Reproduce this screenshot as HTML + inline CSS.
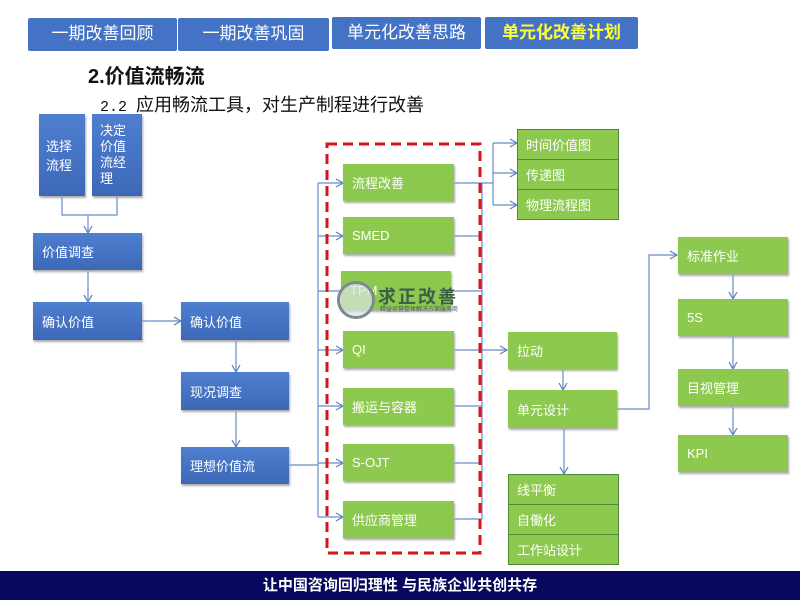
<!DOCTYPE html>
<html><head><meta charset="utf-8"><style>
body{margin:0;width:800px;height:600px;position:relative;background:#fff;overflow:hidden;font-family:"Liberation Sans","Noto Sans CJK SC",sans-serif}
.a{position:absolute;box-sizing:border-box}
.tab{background:#4472c4;color:#fff;font-size:17px;text-align:center;line-height:32px;border-radius:2px}
.b{background:linear-gradient(#4f7fd0,#3d68b8);color:#fff;font-size:13px;padding-left:9px;display:flex;align-items:center;box-shadow:1px 2px 2px #aaa}
.g{background:#8dc94e;color:#fff;font-size:13px;padding-left:9px;display:flex;align-items:center;box-shadow:1px 2px 2px #aaa}
.t{background:#8dc94e;border:1px solid #4e8a35;color:#fff;font-size:13px;padding-left:8px;display:flex;align-items:center}
</style></head><body>
<div class="a tab" style="left:28px;top:18px;width:149px;height:33px">一期改善回顾</div>
<div class="a tab" style="left:178px;top:18px;width:151px;height:33px">一期改善巩固</div>
<div class="a tab" style="left:332px;top:17px;width:149px;height:32px">单元化改善思路</div>
<div class="a tab" style="left:485px;top:17px;width:153px;height:32px;color:#ffff33;font-weight:bold">单元化改善计划</div>
<div class="a" style="left:88px;top:60px;font-size:20px;font-weight:bold;color:#111">2.价值流畅流</div>
<div class="a" style="left:100px;top:91px;font-size:18px;color:#111"><span style="font-family:'Liberation Mono',monospace;font-size:15px">2.2 </span>应用畅流工具，对生产制程进行改善</div>

<svg class="a" style="left:0;top:0" width="800" height="600">
<defs><marker id="m" markerWidth="10" markerHeight="10" refX="8" refY="5" orient="auto" markerUnits="userSpaceOnUse"><path d="M1,1 L8,5 L1,9" fill="none" stroke="#5b7fbf" stroke-width="1.2"/></marker></defs>
<g stroke="#6a8cc8" stroke-width="1.2" fill="none">
<path d="M62,196 V215 H117 V196"/><path d="M88,215 V233" marker-end="url(#m)"/>
<path d="M88,270 V302" marker-end="url(#m)"/>
<path d="M142,321 H181" marker-end="url(#m)"/>
<path d="M236,340 V372" marker-end="url(#m)"/>
<path d="M236,410 V447" marker-end="url(#m)"/>
<path d="M289,465 H318"/><path d="M318,183 V517"/>
<path d="M318,183 H343" marker-end="url(#m)"/><path d="M318,236 H343" marker-end="url(#m)"/>
<path d="M318,291 H341"/><path d="M318,350 H343" marker-end="url(#m)"/>
<path d="M318,406 H343" marker-end="url(#m)"/><path d="M318,463 H343" marker-end="url(#m)"/>
<path d="M318,517 H343" marker-end="url(#m)"/>
<path d="M482,183 V519"/>
<path d="M454,183 H482"/><path d="M454,236 H482"/><path d="M451,291 H482"/><path d="M454,406 H482"/><path d="M454,463 H482"/><path d="M454,519 H482"/>
<path d="M482,183 H493 M493,143 V205"/>
<path d="M493,143 H517" marker-end="url(#m)"/><path d="M493,173 H517" marker-end="url(#m)"/><path d="M493,205 H517" marker-end="url(#m)"/>
<path d="M454,350 H507" marker-end="url(#m)"/>
<path d="M563,369 V390" marker-end="url(#m)"/>
<path d="M617,409 H649 V255 H677" marker-end="url(#m)"/>
<path d="M564,428 V474" marker-end="url(#m)"/>
<path d="M733,274 V299" marker-end="url(#m)"/><path d="M733,336 V369" marker-end="url(#m)"/><path d="M733,406 V435" marker-end="url(#m)"/>
</g>
<rect x="327" y="144" width="153" height="409" fill="none" stroke="#d9141a" stroke-width="3" stroke-dasharray="10,6"/>
</svg>

<div class="a b" style="left:39px;top:114px;width:46px;height:82px;padding-left:7px">选择<br>流程</div>
<div class="a b" style="left:92px;top:114px;width:50px;height:82px;padding-left:8px;line-height:16px">决定<br>价值<br>流经<br>理</div>
<div class="a b" style="left:33px;top:233px;width:109px;height:37px">价值调查</div>
<div class="a b" style="left:33px;top:302px;width:109px;height:38px">确认价值</div>
<div class="a b" style="left:181px;top:302px;width:108px;height:38px">确认价值</div>
<div class="a b" style="left:181px;top:372px;width:108px;height:38px">现况调查</div>
<div class="a b" style="left:181px;top:447px;width:108px;height:37px">理想价值流</div>

<div class="a g" style="left:343px;top:164px;width:111px;height:37px">流程改善</div>
<div class="a g" style="left:343px;top:217px;width:111px;height:37px">SMED</div>
<div class="a g" style="left:341px;top:271px;width:110px;height:39px">TPM</div>
<div class="a g" style="left:343px;top:331px;width:111px;height:37px">QI</div>
<div class="a g" style="left:343px;top:388px;width:111px;height:37px">搬运与容器</div>
<div class="a g" style="left:343px;top:444px;width:111px;height:37px">S-OJT</div>
<div class="a g" style="left:343px;top:501px;width:111px;height:37px">供应商管理</div>
<div class="a" style="left:337px;top:281px;width:38px;height:38px;border-radius:50%;border:3px solid #7a8a90;background:rgba(220,230,225,.7)"></div>
<div class="a" style="left:378px;top:283px;font-size:18px;font-weight:bold;color:#3d5f4a;letter-spacing:2px">求正改善</div>
<div class="a" style="left:380px;top:304px;font-size:6px;color:#556">精益运营整体解决方案服务商</div>

<div class="a t" style="left:517px;top:129px;width:102px;height:31px">时间价值图</div>
<div class="a t" style="left:517px;top:159px;width:102px;height:31px">传递图</div>
<div class="a t" style="left:517px;top:189px;width:102px;height:31px">物理流程图</div>

<div class="a g" style="left:508px;top:332px;width:109px;height:37px">拉动</div>
<div class="a g" style="left:508px;top:390px;width:109px;height:38px">单元设计</div>
<div class="a t" style="left:508px;top:474px;width:111px;height:31px">线平衡</div>
<div class="a t" style="left:508px;top:504px;width:111px;height:31px">自働化</div>
<div class="a t" style="left:508px;top:534px;width:111px;height:31px">工作站设计</div>

<div class="a g" style="left:678px;top:237px;width:110px;height:37px">标准作业</div>
<div class="a g" style="left:678px;top:299px;width:110px;height:37px">5S</div>
<div class="a g" style="left:678px;top:369px;width:110px;height:37px">目视管理</div>
<div class="a g" style="left:678px;top:435px;width:110px;height:37px">KPI</div>

<div class="a" style="left:0;top:571px;width:800px;height:29px;background:#07075e;color:#fff;font-size:15px;font-weight:bold;text-align:center;line-height:29px">让中国咨询回归理性 与民族企业共创共存</div>
</body></html>
